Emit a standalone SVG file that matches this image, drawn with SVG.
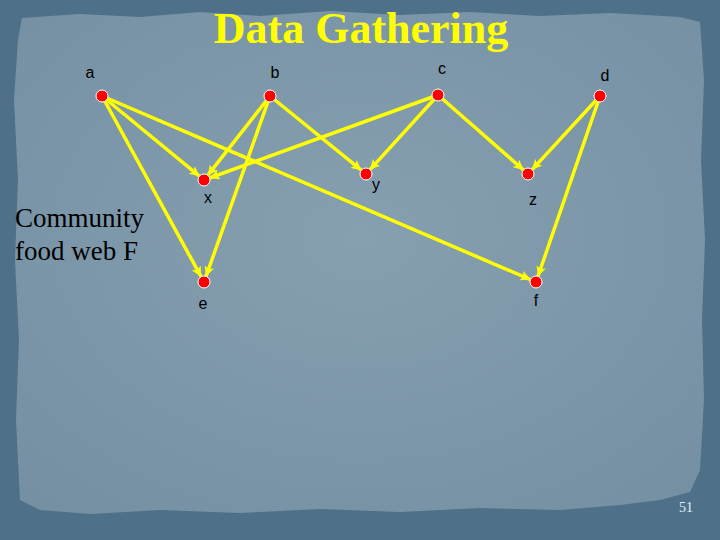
<svg xmlns="http://www.w3.org/2000/svg" width="720" height="540" viewBox="0 0 720 540">
<defs>
<marker id="ah" markerUnits="userSpaceOnUse" markerWidth="12" markerHeight="10" refX="10" refY="5" orient="auto">
<path d="M0,0 L10,5 L0,10 L2.5,5 Z" fill="#ffff00"/>
</marker>
<radialGradient id="pg" cx="0.5" cy="0.45" r="0.7">
<stop offset="0" stop-color="#86a0b1"/>
<stop offset="1" stop-color="#7590a3"/>
</radialGradient>
</defs>
<style>
.e{stroke:#ffff00;stroke-width:3.5;fill:none;marker-end:url(#ah)}
.n{fill:#ff0000;stroke:#ffffff;stroke-width:1}
.l{font-family:"Liberation Sans",Arial,sans-serif;font-size:16px;fill:#000}
</style>
<rect x="0" y="0" width="720" height="540" fill="#4e7189"/>
<path d="M22,18 L80,14 L140,17 L200,12 L260,16 L330,11 L400,15 L470,12 L540,16 L610,13 L680,17 L700,22 L704,80 L701,160 L705,240 L702,320 L704,400 L700,470 L690,492 L660,500 L620,505 L560,510 L480,508 L400,512 L320,509 L240,513 L160,510 L90,514 L40,510 L20,500 L16,420 L19,340 L15,260 L18,180 L14,100 L18,40 Z" fill="url(#pg)"/>
<text x="361" y="43" text-anchor="middle" font-family="Liberation Serif,'Times New Roman',serif" font-weight="bold" font-size="44" fill="#ffff00">Data Gathering</text>
<text font-family="Liberation Serif,'Times New Roman',serif" font-size="27" fill="#000"><tspan x="15" y="227">Community</tspan><tspan x="15" y="260">food web F</tspan></text>
<text x="686" y="512" text-anchor="middle" font-family="Liberation Serif,'Times New Roman',serif" font-size="14" fill="#e8eef2">51</text>
<g id="connectors">
<line class="e" x1="102" y1="96" x2="199.4" y2="176.2"/>
<line class="e" x1="102" y1="96" x2="201.1" y2="276.7"/>
<line class="e" x1="102" y1="96" x2="530.5" y2="279.6"/>
<line class="e" x1="270" y1="96" x2="207.7" y2="175.3"/>
<line class="e" x1="270" y1="96" x2="206.0" y2="276.3"/>
<line class="e" x1="270" y1="96" x2="361.3" y2="170.2"/>
<line class="e" x1="438" y1="95" x2="209.6" y2="178.0"/>
<line class="e" x1="438" y1="95" x2="370.0" y2="169.6"/>
<line class="e" x1="438" y1="95" x2="523.5" y2="170.0"/>
<line class="e" x1="600" y1="96" x2="532.1" y2="169.6"/>
<line class="e" x1="600" y1="96" x2="538.0" y2="276.3"/>
</g>
<g id="node-a"><circle class="n" cx="102" cy="96" r="6"/><text class="l" x="90" y="78" text-anchor="middle">a</text></g>
<g id="node-b"><circle class="n" cx="270" cy="96" r="6"/><text class="l" x="275" y="78" text-anchor="middle">b</text></g>
<g id="node-c"><circle class="n" cx="438" cy="95" r="6"/><text class="l" x="442" y="74" text-anchor="middle">c</text></g>
<g id="node-d"><circle class="n" cx="600" cy="96" r="6"/><text class="l" x="605" y="81" text-anchor="middle">d</text></g>
<g id="node-x"><circle class="n" cx="204" cy="180" r="6"/><text class="l" x="208" y="203" text-anchor="middle">x</text></g>
<g id="node-y"><circle class="n" cx="366" cy="174" r="6"/><text class="l" x="376" y="190" text-anchor="middle">y</text></g>
<g id="node-z"><circle class="n" cx="528" cy="174" r="6"/><text class="l" x="533" y="205" text-anchor="middle">z</text></g>
<g id="node-e"><circle class="n" cx="204" cy="282" r="6"/><text class="l" x="203" y="309" text-anchor="middle">e</text></g>
<g id="node-f"><circle class="n" cx="536" cy="282" r="6"/><text class="l" x="536" y="306" text-anchor="middle">f</text></g>
</svg>
